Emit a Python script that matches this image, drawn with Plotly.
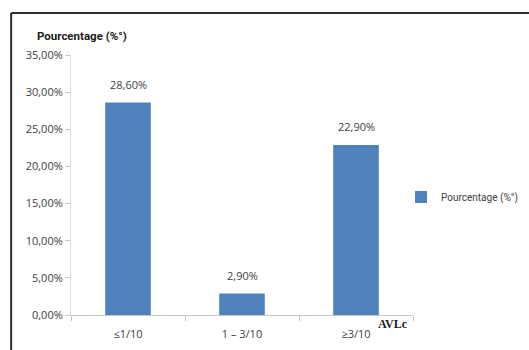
import plotly.graph_objects as go

categories = ["≤1/10", "1 – 3/10", "≥3/10"]
values = [28.60, 2.90, 22.90]
series_name = "Pourcentage (%°)"
labels = [f"{v:.2f}%".replace(".", ",") for v in values]

font_main = "Open Sans, Liberation Sans, sans-serif"
grey = "#404040"

fig = go.Figure()
fig.add_trace(go.Bar(
    x=categories, y=values, name=series_name,
    marker=dict(color="#4F81BD", line=dict(width=0)),
    showlegend=True,
))

annotations = [
    dict(x=c, y=v, text=t, xref="x", yref="y", showarrow=False, yshift=18,
         yanchor="middle", font=dict(family=font_main, size=11, color=grey))
    for c, v, t in zip(categories, values, labels)
]
annotations += [
    dict(text="<b>Pourcentage (%°)</b>", xref="paper", yref="paper",
         x=(82 - 71) / 342, y=(315 - 36) / 260, xanchor="center", yanchor="middle",
         showarrow=False,
         font=dict(family="Roboto, sans-serif", size=11.5, color="#202020")),
    dict(text="<b>AVLc</b>", xref="paper", yref="paper",
         x=(393 - 71) / 342, y=(315 - 324) / 260, xanchor="center", yanchor="middle",
         showarrow=False,
         font=dict(family="Liberation Serif, serif", size=12, color="#202020")),
]

fig.update_layout(
    width=529, height=350,
    margin=dict(l=71, r=116, t=55, b=35, autoexpand=False),
    paper_bgcolor="white", plot_bgcolor="white",
    separators=", ",
    bargap=0.6,
    font=dict(family=font_main, size=11, color=grey),
    xaxis=dict(
        showline=True, linecolor="#C8C8C8", linewidth=1,
        ticks="outside", tickson="boundaries", ticklen=5, tickcolor="#C8C8C8",
        tickfont=dict(family=font_main, size=11, color=grey),
        ticklabelstandoff=9,
        showgrid=False,
    ),
    yaxis=dict(
        range=[0, 35], dtick=5, tickformat=".2f", ticksuffix="%",
        showline=True, linecolor="#E8D8D0", linewidth=1,
        ticks="outside", ticklen=5, tickcolor="#C8C8C8",
        showgrid=False, zeroline=False,
        tickfont=dict(family=font_main, size=11, color=grey),
    ),
    legend=dict(
        x=0.965, y=0.454, xanchor="left", yanchor="middle",
        font=dict(family="Roboto, sans-serif", size=10, color=grey),
        bgcolor="rgba(0,0,0,0)", itemwidth=30,
    ),
    shapes=[
        dict(type="line", xref="paper", yref="paper", x0=-0.175, x1=1.5, y0=1.1615, y1=1.1615,
             line=dict(color="#303030", width=2)),
        dict(type="line", xref="paper", yref="paper", x0=-0.175, x1=-0.175, y0=1.1615, y1=-0.2,
             line=dict(color="#303030", width=2)),
    ],
    annotations=annotations,
)

fig.write_html("out.html")
